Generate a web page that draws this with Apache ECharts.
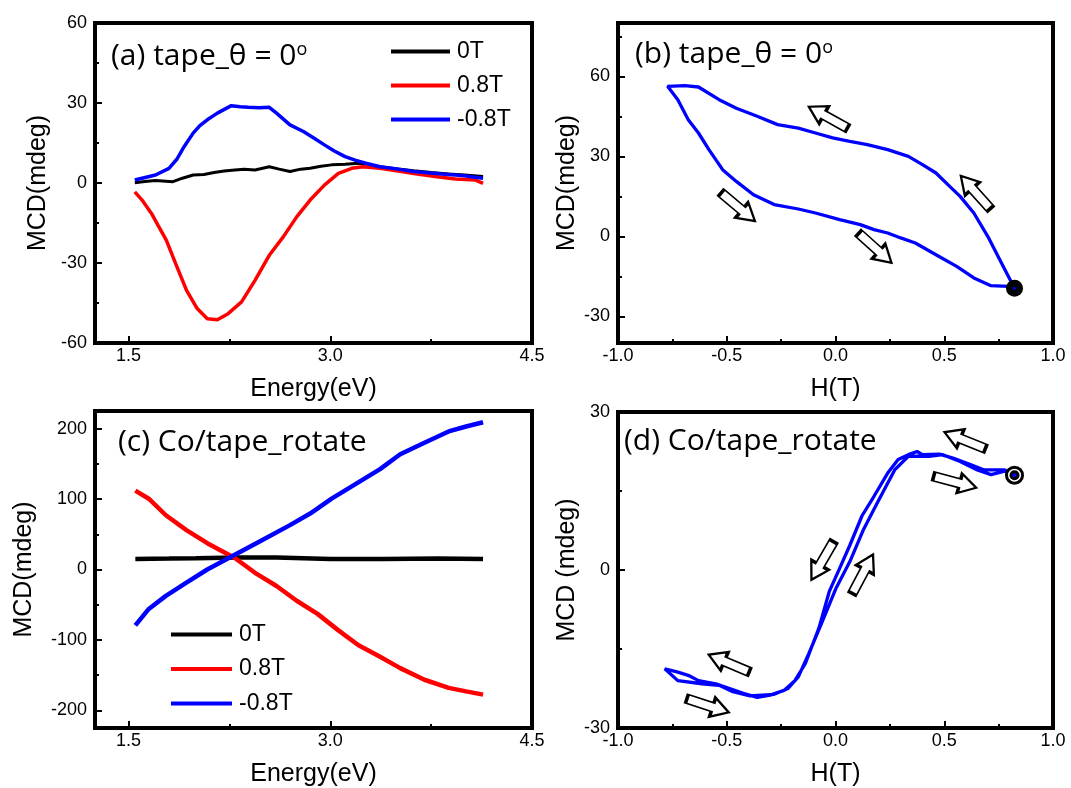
<!DOCTYPE html>
<html>
<head>
<meta charset="utf-8">
<script src="https://cdn.jsdelivr.net/npm/echarts@6/dist/echarts.min.js"></script>
<style>
  html, body { margin: 0; padding: 0; background: #fff; }
  #chart { width: 1071px; height: 788px; }
</style>
</head>
<body>
<div id="chart"></div>
<script>
// ---- (a) tape, theta = 0 : MCD spectra [energy eV, mdeg]
const specA_0T = [[1.546,0.1],[1.62,0.6],[1.70,0.9],[1.83,0.5],[1.90,1.8],[1.98,3],[2.06,3.2],[2.136,3.9],[2.21,4.5],[2.29,4.9],[2.36,5.2],[2.44,4.9],[2.546,6.1],[2.62,5.2],[2.70,4.3],[2.78,5.2],[2.85,5.5],[2.93,6.3],[3.01,6.8],[3.11,7.0],[3.21,7.4],[3.30,6.8],[3.37,6.1],[3.50,5.3],[3.62,4.6],[3.75,3.9],[3.88,3.4],[4.00,3.0],[4.136,2.4]];
const specA_p08 = [[1.546,-3.3],[1.60,-6.4],[1.67,-11.4],[1.72,-16],[1.78,-21.4],[1.85,-30.2],[1.93,-40.2],[2.01,-47.1],[2.085,-50.9],[2.16,-51.3],[2.24,-49],[2.34,-44.6],[2.44,-36.5],[2.546,-27.1],[2.65,-20.2],[2.75,-12.7],[2.85,-6.4],[2.956,-0.8],[3.06,3.6],[3.16,5.5],[3.24,6.1],[3.37,5.5],[3.495,4.6],[3.62,3.6],[3.78,2.4],[3.93,1.5],[4.08,1.1],[4.136,-0.1]];
const specA_m08 = [[1.546,1.1],[1.60,1.8],[1.70,3],[1.80,5.5],[1.86,9],[1.905,13],[1.98,18.7],[2.03,21.5],[2.085,23.7],[2.16,26.2],[2.264,29],[2.33,28.6],[2.39,28.4],[2.47,28.2],[2.546,28.4],[2.60,26.2],[2.70,21.8],[2.80,19.3],[2.88,16.8],[2.956,14.3],[3.03,12.0],[3.11,9.9],[3.19,8.5],[3.264,7.4],[3.37,6.1],[3.495,5.3],[3.62,4.3],[3.83,3.4],[3.98,2.8],[4.136,1.8]];

// ---- (b) tape, theta = 0 : field loop [H T, mdeg]
const loopB = [[0.823,-19.5],[0.763,-10],[0.70,0],[0.636,8.75],[0.573,15],[0.525,18.75],[0.462,23.75],[0.40,26.9],[0.335,30],[0.24,32.5],[0.146,34.4],[0.066,35.6],[-0.013,36.9],[-0.092,38.75],[-0.171,40.6],[-0.266,41.9],[-0.36,45],[-0.456,48],[-0.535,51.25],[-0.63,56],[-0.693,56.5],[-0.772,56.25],[-0.78,56],[-0.725,51.25],[-0.677,43.75],[-0.63,38.75],[-0.582,32.5],[-0.519,25],[-0.456,20.6],[-0.377,15.6],[-0.282,11.9],[-0.171,10.25],[-0.092,8.75],[0.019,6.25],[0.114,4.4],[0.177,2.5],[0.24,1.25],[0.30,-0.6],[0.367,-2.5],[0.462,-6.9],[0.557,-11.25],[0.636,-15.6],[0.715,-18.5],[0.794,-18.75],[0.823,-19.5]];
const startB = [[0.823,-19.5]];
// arrows: [H, mdeg, direction in degrees]
const arrowsB = [[-0.034,44.6,151],[0.644,16.5,132],[-0.448,11,-40],[0.182,-4.4,-42]];

// ---- (c) Co/tape rotate : MCD spectra
const specC_0T = [[1.55,15],[1.8,15.5],[2.0,16],[2.3,17],[2.6,17],[3.0,15],[3.4,15],[3.8,15.5],[4.136,15]];
const specC_p08 = [[1.55,112],[1.65,100.5],[1.777,77],[1.93,56],[2.085,37.4],[2.29,16.4],[2.44,-4.7],[2.60,-23.4],[2.75,-44.4],[2.905,-63],[3.06,-86.4],[3.21,-107.5],[3.37,-123.8],[3.52,-140],[3.70,-156.5],[3.88,-168],[4.01,-173],[4.136,-177.6]];
const specC_m08 = [[1.55,-79.4],[1.65,-56],[1.777,-37.4],[1.93,-18.7],[2.085,0],[2.29,21],[2.495,42],[2.70,63],[2.85,79.4],[3.01,100.5],[3.19,121.5],[3.37,142.5],[3.52,163.6],[3.70,180],[3.88,196],[4.01,203],[4.136,209]];

// ---- (d) Co/tape rotate : field loop
const loopD = [[0.823,18],[0.778,19],[0.684,19],[0.62,20],[0.54,21.25],[0.478,22],[0.40,21.9],[0.375,22.5],[0.335,21.9],[0.288,21],[0.24,18.4],[0.177,14],[0.122,10.3],[0.066,4.7],[0.019,0.3],[-0.028,-4],[-0.076,-11],[-0.139,-17.8],[-0.187,-21],[-0.234,-22.8],[-0.30,-23.75],[-0.36,-24.2],[-0.424,-23.4],[-0.487,-22.5],[-0.55,-21.6],[-0.63,-21],[-0.677,-20],[-0.725,-19.4],[-0.785,-18.75],[-0.725,-21],[-0.614,-21.6],[-0.535,-21.9],[-0.472,-23.1],[-0.393,-23.9],[-0.282,-23.6],[-0.218,-22.5],[-0.171,-20.3],[-0.123,-15.9],[-0.06,-9.7],[0.003,-3.4],[0.066,1.6],[0.13,7.8],[0.193,12.8],[0.272,19],[0.335,21.6],[0.43,21.6],[0.494,21.9],[0.573,20.6],[0.652,19],[0.715,18.1],[0.778,18.75],[0.823,18]];
const startD = [[0.823,18]];
const arrowsD = [[0.595,24.6,158],[0.549,16.7,-15],[-0.06,1.75,-120],[0.125,-0.75,62],[-0.49,-17.7,157],[-0.587,-25.75,-18]];

// ---- axis ticks
const energyTicks = [1.5, 3.0, 4.5];
const energyMinor = [2.25, 3.75];
const fieldTicks = [-1.0, -0.5, 0.0, 0.5, 1.0];
const fieldMinor = [-0.75, -0.25, 0.25, 0.75];
const yTicksA = [-60, -30, 0, 30, 60];
const yMinorA = [-45, -15, 15, 45];
const yTicksB = [-30, 0, 30, 60];
const yMinorB = [-15, 15, 45, 75];
const yTicksC = [-200, -100, 0, 100, 200];
const yMinorC = [-150, -50, 50, 150];
const yTicksD = [-30, 0, 30];
const yMinorD = [-15, 15];

const NUM_FONT = '"Liberation Sans", Arial, sans-serif';
const NOTE_FONT = '"Open Sans", sans-serif';
const BLACK = '#000000', RED = '#ff0000', BLUE = '#0000ff';
const ARROW = 'path://M0,5.5 L27,5.5 L27,0 L44,10 L27,20 L27,14.5 L0,14.5 Z';

const grids = [
  { left: 95,  top: 23,  width: 437, height: 320 },
  { left: 618, top: 23,  width: 435, height: 320 },
  { left: 95,  top: 411, width: 437, height: 321 },
  { left: 618, top: 412, width: 435, height: 320 }
].map(g => Object.assign({ show: true, borderColor: BLACK, borderWidth: 4, backgroundColor: 'transparent' }, g));

const frameLine = { show: true, onZero: false, lineStyle: { color: BLACK, width: 4 } };
const hiddenLine = { show: false, onZero: false };

function xPair(gi, min, max, major, minor, name) {
  return [
    {
      gridIndex: gi, type: 'value', min, max, position: 'bottom',
      axisLine: frameLine, splitLine: { show: false },
      axisTick: { inside: true, length: 7, customValues: major, lineStyle: { color: BLACK, width: 2 } },
      axisLabel: { customValues: major, formatter: v => v.toFixed(1), color: BLACK, fontSize: 18, fontFamily: NUM_FONT, margin: 4 },
      name, nameLocation: 'middle', nameGap: 34,
      nameTextStyle: { fontSize: 25, color: BLACK, fontFamily: NUM_FONT }
    },
    {
      gridIndex: gi, type: 'value', min, max, position: 'bottom',
      axisLine: hiddenLine, splitLine: { show: false }, axisLabel: { show: false },
      axisTick: { inside: true, length: 4, customValues: minor, lineStyle: { color: BLACK, width: 2 } }
    }
  ];
}
function yPair(gi, min, max, major, minor, name, gap) {
  return [
    {
      gridIndex: gi, type: 'value', min, max, position: 'left',
      axisLine: frameLine, splitLine: { show: false },
      axisTick: { inside: true, length: 7, customValues: major, lineStyle: { color: BLACK, width: 2 } },
      axisLabel: { customValues: major, color: BLACK, fontSize: 18, fontFamily: NUM_FONT, margin: 8 },
      name, nameLocation: 'middle', nameRotate: 90, nameGap: gap,
      nameTextStyle: { fontSize: 25, color: BLACK, fontFamily: NUM_FONT }
    },
    {
      gridIndex: gi, type: 'value', min, max, position: 'left',
      axisLine: hiddenLine, splitLine: { show: false }, axisLabel: { show: false },
      axisTick: { inside: true, length: 4, customValues: minor, lineStyle: { color: BLACK, width: 2 } }
    }
  ];
}

const xAxis = [].concat(
  xPair(0, 1.25, 4.5, energyTicks, energyMinor, 'Energy(eV)'),
  xPair(1, -1, 1, fieldTicks, fieldMinor, 'H(T)'),
  xPair(2, 1.25, 4.5, energyTicks, energyMinor, 'Energy(eV)'),
  xPair(3, -1, 1, fieldTicks, fieldMinor, 'H(T)')
);
const yAxis = [].concat(
  yPair(0, -60, 60, yTicksA, yMinorA, 'MCD(mdeg)', 44),
  yPair(1, -40, 80, yTicksB, yMinorB, 'MCD(mdeg)', 38),
  yPair(2, -225, 225, yTicksC, yMinorC, 'MCD(mdeg)', 58),
  yPair(3, -30, 30, yTicksD, yMinorD, 'MCD (mdeg)', 38)
);

function line(name, data, color, width, panel) {
  return {
    name, type: 'line', data, xAxisIndex: panel * 2, yAxisIndex: panel * 2,
    symbol: 'none', smooth: false, color,
    lineStyle: { color, width }, silent: true, animation: false
  };
}
function arrows(list, panel) {
  return {
    type: 'scatter', xAxisIndex: panel * 2, yAxisIndex: panel * 2, z: 5, silent: true,
    symbol: ARROW, symbolSize: [44, 20],
    itemStyle: { color: '#ffffff', borderColor: BLACK, borderWidth: 2.4, opacity: 1 },
    data: list.map(a => ({ value: [a[0], a[1]], symbolRotate: a[2] }))
  };
}
function dot(data, panel, size, color, z) {
  return {
    type: 'scatter', xAxisIndex: panel * 2, yAxisIndex: panel * 2, z, silent: true,
    symbol: 'circle', symbolSize: size, data,
    itemStyle: { color, opacity: 1 }
  };
}

const noteStyle = {
  fontSize: 30, fontWeight: 'normal', fontFamily: NOTE_FONT, color: BLACK,
  rich: { sup: { fontSize: 18, fontFamily: NOTE_FONT, color: BLACK, verticalAlign: 'top', lineHeight: 22 } }
};

const legendBase = {
  data: ['0T', '0.8T', '-0.8T'], orient: 'vertical', padding: 0,
  icon: 'rect', itemHeight: 4, selectedMode: false,
  textStyle: { fontSize: 23, fontFamily: NUM_FONT, color: BLACK, padding: [0, 0, 0, 2] }
};

const option = {
  backgroundColor: '#ffffff',
  animation: false,
  grid: grids,
  xAxis, yAxis,
  title: [
    { text: '(a) tape_θ = 0{sup|o}', left: 111, top: 41, padding: 0, textStyle: noteStyle },
    { text: '(b) tape_θ = 0{sup|o}', left: 635, top: 39, padding: 0, textStyle: noteStyle },
    { text: '(c) Co/tape_rotate', left: 118, top: 427, padding: 0, textStyle: noteStyle },
    { text: '(d) Co/tape_rotate', left: 624, top: 426, padding: 0, textStyle: noteStyle }
  ],
  legend: [
    Object.assign({}, legendBase, { left: 391, top: 40, itemWidth: 59, itemGap: 11 }),
    Object.assign({}, legendBase, { left: 171, top: 623, itemWidth: 61, itemGap: 11.5 })
  ],
  series: [
    line('0T', specA_0T, BLACK, 3, 0),
    line('0.8T', specA_p08, RED, 3.5, 0),
    line('-0.8T', specA_m08, BLUE, 3.5, 0),
    line('loopB', loopB, BLUE, 3.3, 1),
    arrows(arrowsB, 1),
    dot(startB, 1, 17, BLACK, 6),
    dot(startB, 1, 3, BLUE, 7),
    line('0T', specC_0T, BLACK, 4.5, 2),
    line('0.8T', specC_p08, RED, 4.5, 2),
    line('-0.8T', specC_m08, BLUE, 4.5, 2),
    line('loopD', loopD, BLUE, 3.3, 3),
    arrows(arrowsD, 3),
    dot(startD, 3, 19, BLACK, 6),
    dot(startD, 3, 13, '#ffffff', 7),
    dot(startD, 3, 10, BLACK, 8),
    dot(startD, 3, 4, BLUE, 9)
  ]
};

const chart = echarts.init(document.getElementById('chart'), null, { renderer: 'canvas' });
chart.setOption(option);
</script>
</body>
</html>
